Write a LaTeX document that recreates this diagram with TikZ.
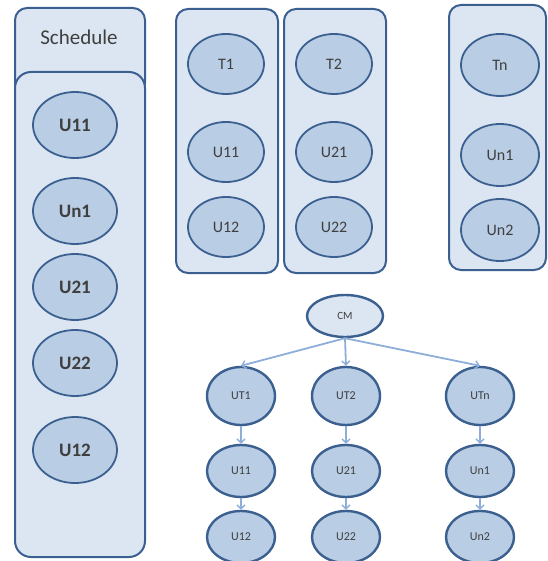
\documentclass[tikz,border=0pt]{standalone}
\usepackage{fontspec}
\setmainfont{Carlito}
\usetikzlibrary{arrows.meta,shapes.geometric}
\definecolor{boxfill}{HTML}{DCE6F2}
\definecolor{boxline}{HTML}{3B6090}
\definecolor{ovalfill}{HTML}{B9CDE5}
\definecolor{txt}{HTML}{3F3F3F}
\definecolor{arrowc}{HTML}{8EAEDA}

\begin{document}
\begin{tikzpicture}[x=1pt,y=-1pt,
  panel/.style={draw=boxline, fill=boxfill, line width=2pt, rounded corners=12pt},
  oval/.style={ellipse, draw=boxline, fill=ovalfill, line width=1.8pt, inner sep=0pt, text=txt},
  schedoval/.style={oval, minimum width=84pt, minimum height=66pt, font=\fontsize{19}{19}\selectfont\bfseries},
  taskoval/.style={oval, minimum width=76pt, minimum height=60pt, font=\fontsize{16}{16}\selectfont},
  treeoval/.style={oval, line width=2.4pt, minimum width=68pt, font=\fontsize{12}{12}\selectfont},
  link/.style={draw=arrowc, line width=1.8pt, -{Straight Barb[length=4pt,width=8pt,line width=1.4pt]}}]

\useasboundingbox (0,0) rectangle (547,561);

% Schedule column: header tab behind the long list panel
\draw[panel] (15,8) rectangle (145,95);
\node[text=txt, font=\fontsize{21}{21}\selectfont] (schedtitle) at (79,37) {Schedule};
\draw[panel, rounded corners=16pt] (15,72) rectangle (145,557);

\node[schedoval] (s11) at (75,125) {U11};
\node[schedoval] (sn1) at (75,211) {Un1};
\node[schedoval] (s21) at (75,287) {U21};
\node[schedoval] (s22) at (75,363) {U22};
\node[schedoval] (s12) at (75,450) {U12};

% Task panels
\draw[panel] (176,9) rectangle (278,273);
\draw[panel] (284,9) rectangle (386,273);
\draw[panel] (449,5) rectangle (546,270);

\node[taskoval] (t1)  at (226,64)  {T1};
\node[taskoval] (t11) at (226,152) {U11};
\node[taskoval] (t12) at (226,227) {U12};

\node[taskoval] (t2)  at (334,64)  {T2};
\node[taskoval] (t21) at (334,152) {U21};
\node[taskoval] (t22) at (334,227) {U22};

\node[taskoval, minimum width=78pt, minimum height=62pt] (tn)  at (500,65)  {Tn};
\node[taskoval, minimum width=78pt, minimum height=62pt] (tn1) at (500,155) {Un1};
\node[taskoval, minimum width=78pt, minimum height=62pt] (tn2) at (500,230) {Un2};

% Tree of user tasks
\node[treeoval, fill=boxfill, minimum width=76pt, minimum height=42pt, font=\fontsize{11}{11}\selectfont] (cm) at (345,316) {CM};

\node[treeoval, minimum height=58pt] (ut1) at (241,396) {UT1};
\node[treeoval, minimum height=58pt] (ut2) at (346,396) {UT2};
\node[treeoval, minimum height=58pt] (utn) at (480,396) {UTn};

\node[treeoval, minimum height=52pt] (u11) at (241,471) {U11};
\node[treeoval, minimum height=52pt] (u21) at (346,471) {U21};
\node[treeoval, minimum height=52pt] (un1) at (480,471) {Un1};

\node[treeoval, minimum height=52pt] (u12) at (241,537) {U12};
\node[treeoval, minimum height=52pt] (u22) at (346,537) {U22};
\node[treeoval, minimum height=52pt] (un2) at (480,537) {Un2};

\draw[link] (cm.south) -- (ut1.north);
\draw[link] (cm.south) -- (ut2.north);
\draw[link] (cm.south) -- (utn.north);

\draw[link] (ut1) -- (u11);
\draw[link] (ut2) -- (u21);
\draw[link] (utn) -- (un1);
\draw[link] (u11) -- (u12);
\draw[link] (u21) -- (u22);
\draw[link] (un1) -- (un2);

\end{tikzpicture}
\end{document}
